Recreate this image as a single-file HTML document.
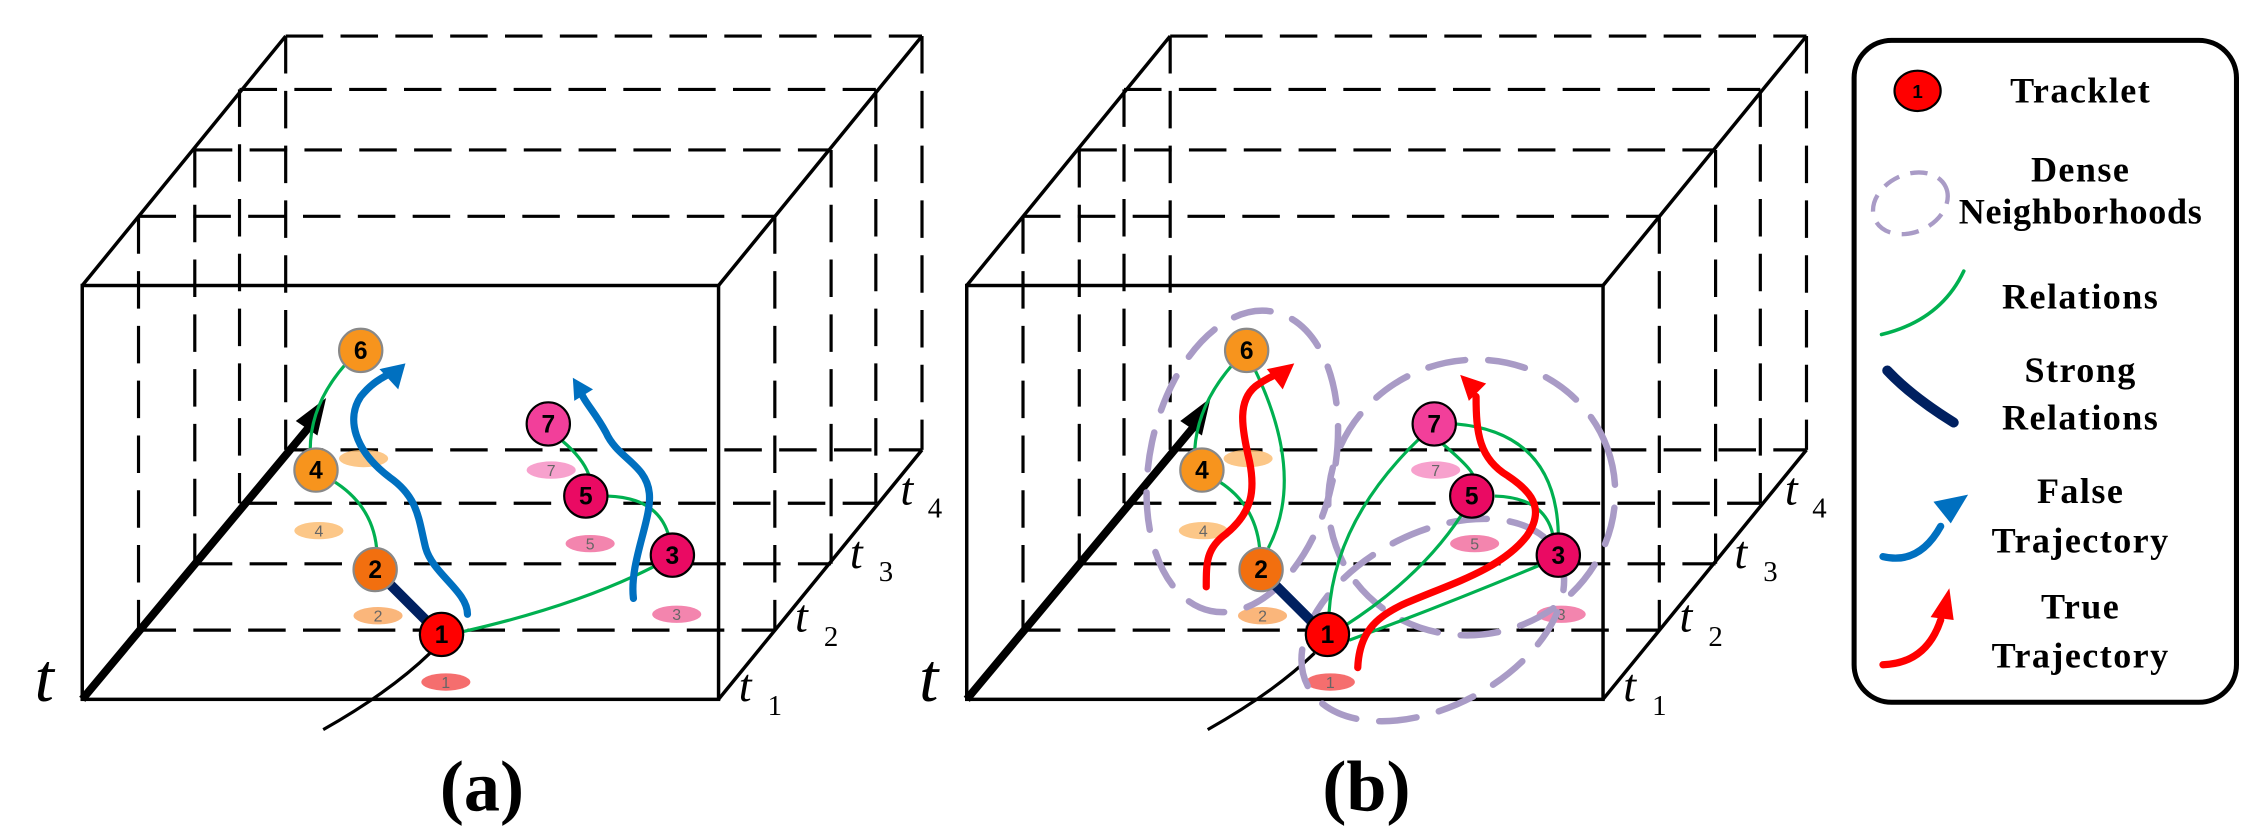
<!DOCTYPE html>
<html><head><meta charset="utf-8"><style>
html,body{margin:0;padding:0;background:#fff;width:2261px;height:832px;overflow:hidden}
svg{display:block}
.lg{font-family:"Liberation Serif",serif;font-weight:bold;font-size:25px}
</style></head><body>
<svg width="2261" height="832" viewBox="0 0 1567 577" preserveAspectRatio="none" xmlns="http://www.w3.org/2000/svg">
<defs>
<g id="cube">
  <g stroke="#000" stroke-width="2.2" fill="none" stroke-dasharray="26 12">
    <line x1="96" y1="150" x2="96" y2="437"/><line x1="537" y1="150" x2="537" y2="437"/>
    <line x1="96" y1="150" x2="537" y2="150"/><line x1="96" y1="437" x2="537" y2="437"/>
    <line x1="135" y1="104" x2="135" y2="391"/><line x1="576" y1="104" x2="576" y2="391"/>
    <line x1="135" y1="104" x2="576" y2="104"/><line x1="135" y1="391" x2="576" y2="391"/>
    <line x1="166" y1="62" x2="166" y2="349"/><line x1="607" y1="62" x2="607" y2="349"/>
    <line x1="166" y1="62" x2="607" y2="62"/><line x1="166" y1="349" x2="607" y2="349"/>
    <line x1="198" y1="25" x2="198" y2="312"/><line x1="639" y1="25" x2="639" y2="312"/>
    <line x1="198" y1="25" x2="639" y2="25"/><line x1="198" y1="312" x2="639" y2="312"/>
  </g>
  <g stroke="#000" stroke-width="2.4" fill="none">
    <rect x="57" y="198" width="441" height="287"/>
    <line x1="57" y1="198" x2="198" y2="25"/>
    <line x1="498" y1="198" x2="639" y2="25"/>
    <line x1="498" y1="485" x2="639" y2="312"/>
  </g>
  <line x1="57" y1="485" x2="216" y2="294" stroke="#000" stroke-width="5.5"/>
  <polygon points="226,276 205,292 220,302" fill="#000"/>
  <g font-family="Liberation Serif, serif" font-style="italic">
    <text x="24" y="486" font-size="48">t</text>
    <text x="512" y="486" font-size="32">t</text><text x="532" y="496" font-size="20" font-style="normal">1</text>
    <text x="551" y="438" font-size="32">t</text><text x="571" y="448" font-size="20" font-style="normal">2</text>
    <text x="589" y="394" font-size="32">t</text><text x="609" y="403" font-size="20" font-style="normal">3</text>
    <text x="624" y="350" font-size="32">t</text><text x="643" y="359" font-size="20" font-style="normal">4</text>
  </g>
  <path d="M224,506 Q270,480 298,453" stroke="#000" stroke-width="2.2" fill="none"/>
  <g font-family="Liberation Sans, sans-serif" font-size="11" fill="#666" text-anchor="middle">
    <ellipse cx="252" cy="318" rx="17" ry="6" fill="#fbb96a" opacity="0.8"/>
    <ellipse cx="221" cy="368" rx="17" ry="6" fill="#fbb96a" opacity="0.8"/><text x="221" y="372">4</text>
    <ellipse cx="262" cy="427" rx="17" ry="6" fill="#f9a45a" opacity="0.8"/><text x="262" y="431">2</text>
    <ellipse cx="309" cy="473" rx="17" ry="6" fill="#f24a4a" opacity="0.8"/><text x="309" y="477">1</text>
    <ellipse cx="382" cy="326" rx="17" ry="6" fill="#f58ac0" opacity="0.8"/><text x="382" y="330">7</text>
    <ellipse cx="409" cy="377" rx="17" ry="6" fill="#f0679a" opacity="0.8"/><text x="409" y="381">5</text>
    <ellipse cx="469" cy="426" rx="17" ry="6" fill="#f0679a" opacity="0.8"/><text x="469" y="430">3</text>
  </g>
</g>
<g id="nodes" font-family="Liberation Sans, sans-serif" font-size="17" font-weight="bold" text-anchor="middle">
  <circle cx="250" cy="243" r="15" fill="#f7941d" stroke="#888" stroke-width="1.5"/><text x="250" y="249">6</text>
  <circle cx="219" cy="326" r="15" fill="#f7941d" stroke="#888" stroke-width="1.5"/><text x="219" y="332">4</text>
  <circle cx="260" cy="395" r="15" fill="#f26f0f" stroke="#888" stroke-width="1.5"/><text x="260" y="401">2</text>
  <circle cx="306" cy="440" r="15" fill="#ff0000" stroke="#000" stroke-width="1.5"/><text x="306" y="446">1</text>
  <circle cx="380" cy="294" r="15" fill="#f23f9a" stroke="#000" stroke-width="1.5"/><text x="380" y="300">7</text>
  <circle cx="406" cy="344" r="15" fill="#ea0a63" stroke="#000" stroke-width="1.5"/><text x="406" y="350">5</text>
  <circle cx="466" cy="385" r="15" fill="#ea0a63" stroke="#000" stroke-width="1.5"/><text x="466" y="391">3</text>
</g>
</defs>

<use href="#cube"/>
<g stroke="#00b050" stroke-width="2.2" fill="none">
  <path d="M240,252 Q215,280 215,312"/>
  <path d="M230,333 Q258,350 261,380"/>
  <path d="M321,438 Q400,420 453,393"/>
  <path d="M390,306 Q404,318 408,329"/>
  <path d="M421,344 Q455,345 463,370"/>
</g>
<line x1="270" y1="405" x2="296" y2="431" stroke="#002060" stroke-width="7" stroke-linecap="round"/>
<g stroke="#0070c0" stroke-width="5" fill="none" stroke-linecap="round">
  <path d="M324,426 C324,410 300,398 295,380 C290,360 290,345 270,331 C245,312 240,290 250,275 C258,265 265,262 272,258"/>
  <path d="M439,415 C436,390 452,360 450,342 C448,322 428,318 420,300 C412,285 404,278 402,270"/>
</g>
<polygon points="281,252 263,256 276,270" fill="#0070c0"/>
<polygon points="397,262 398,278 411,270" fill="#0070c0"/>
<use href="#nodes"/>
<text x="334" y="562" font-family="Liberation Serif, serif" font-weight="bold" font-size="50" text-anchor="middle">(a)</text>

<g transform="translate(613,0)"><use href="#cube"/></g>
<g stroke="#a99bc6" stroke-width="4.5" fill="none" stroke-dasharray="26 16" stroke-linecap="round">
  <ellipse cx="861" cy="320" rx="64" ry="106" transform="rotate(12 861 320)"/>
  <ellipse cx="1020" cy="345" rx="100" ry="95" transform="rotate(-20 1020 345)"/>
  <ellipse cx="993" cy="430" rx="98" ry="60" transform="rotate(-28 993 430)"/>
</g>
<g stroke="#00b050" stroke-width="2.2" fill="none">
  <path d="M855,252 Q830,280 828,312"/>
  <path d="M845,334 Q870,350 873,380"/>
  <path d="M879,380 Q905,330 870,257"/>
  <path d="M921,426 Q925,360 985,303"/>
  <path d="M932,434 Q985,400 1013,357"/>
  <path d="M935,444 Q1000,420 1067,392"/>
  <path d="M1009,294 Q1078,300 1080,370"/>
  <path d="M1000,308 Q1020,325 1021,330"/>
  <path d="M1036,344 Q1070,345 1076,370"/>
</g>
<line x1="883" y1="405" x2="909" y2="431" stroke="#002060" stroke-width="7" stroke-linecap="round"/>
<g stroke="#ff0000" stroke-width="5" fill="none" stroke-linecap="round">
  <path d="M836,407 C836,390 836,380 850,370 C868,355 870,340 866,320 C860,295 858,278 870,268 C878,262 884,260 888,258"/>
  <path d="M941,463 C942,440 952,428 975,418 C1005,405 1040,395 1058,372 C1072,352 1060,340 1045,330 C1025,318 1023,300 1023,275"/>
</g>
<polygon points="897,252 878,256 889,270" fill="#ff0000"/>
<polygon points="1012,260 1018,278 1030,266" fill="#ff0000"/>
<g transform="translate(614,0)"><use href="#nodes"/></g>
<text x="947" y="562" font-family="Liberation Serif, serif" font-weight="bold" font-size="50" text-anchor="middle">(b)</text>

<rect x="1285" y="28" width="265" height="459" rx="26" ry="26" fill="#fff" stroke="#000" stroke-width="3.5"/>
<ellipse cx="1329" cy="63" rx="16" ry="14" fill="#ff0000" stroke="#000" stroke-width="1.5"/>
<text x="1329" y="68" font-family="Liberation Sans, sans-serif" font-weight="bold" font-size="13" text-anchor="middle">1</text>
<ellipse cx="1324" cy="141" rx="27" ry="20" transform="rotate(-25 1324 141)" fill="none" stroke="#a99bc6" stroke-width="3" stroke-dasharray="12 8"/>
<path d="M1304,232 Q1345,222 1361,188" stroke="#00b050" stroke-width="2.5" fill="none" stroke-linecap="round"/>
<path d="M1308,257 Q1325,275 1354,293" stroke="#002060" stroke-width="7" fill="none" stroke-linecap="round"/>
<path d="M1305,386 Q1330,392 1345,365" stroke="#0070c0" stroke-width="5" fill="none" stroke-linecap="round"/>
<polygon points="1364,343 1340,348 1352,363" fill="#0070c0"/>
<path d="M1305,461 Q1335,460 1345,430" stroke="#ff0000" stroke-width="5" fill="none" stroke-linecap="round"/>
<polygon points="1351,408 1338,428 1354,430" fill="#ff0000"/>
<g class="lg" text-anchor="middle" letter-spacing="1">
  <text x="1442" y="71">Tracklet</text>
  <text x="1442" y="126">Dense</text>
  <text x="1442" y="155" letter-spacing="0.5">Neighborhoods</text>
  <text x="1442" y="214">Relations</text>
  <text x="1442" y="265">Strong</text>
  <text x="1442" y="298">Relations</text>
  <text x="1442" y="349">False</text>
  <text x="1442" y="383">Trajectory</text>
  <text x="1442" y="429">True</text>
  <text x="1442" y="463">Trajectory</text>
</g>
</svg>
</body></html>
